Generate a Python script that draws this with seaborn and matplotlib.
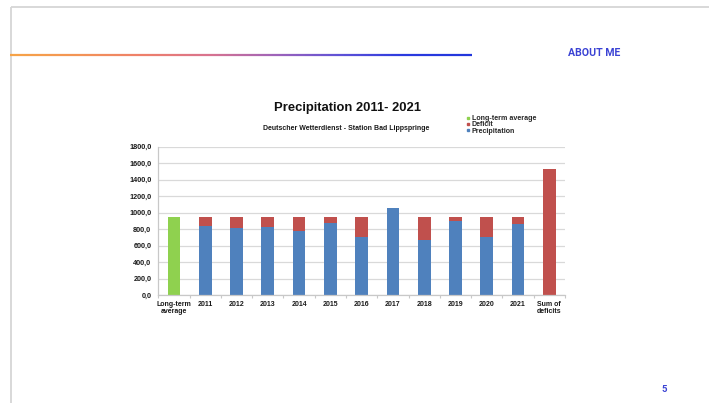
import numpy as np
import pandas as pd
import matplotlib
matplotlib.use("Agg")
import matplotlib.pyplot as plt
import seaborn as sns
from matplotlib.collections import LineCollection
from matplotlib.colors import LinearSegmentedColormap
from matplotlib.lines import Line2D

# Annual precipitation (mm), DWD station Bad Lippspringe
years = ["2011", "2012", "2013", "2014", "2015", "2016",
         "2017", "2018", "2019", "2020", "2021"]
precipitation = [837, 813, 822, 777, 878, 705, 1062, 674, 906, 705, 858]
deficit = [113, 137, 128, 173, 72, 245, 0, 276, 44, 245, 92]
long_term_average = 950
sum_of_deficits = 1525

avg_label = "Long-term\naverage"
sum_label = "Sum of\ndeficits"
categories = [avg_label] + years + [sum_label]
y_ticks = [0, 200, 400, 600, 800, 1000, 1200, 1400, 1600, 1800]

legend_labels = ["Long-term average", "Deficit", "Precipitation"]

GREEN = "#8fd14f"
RED = "#c0504d"
BLUE = "#4f81bd"
ACCENT = "#3b43d4"

sns.set_theme(style="white")
plt.rcParams["font.family"] = ["Liberation Sans", "DejaVu Sans"]

W, H = 709, 403
fig = plt.figure(figsize=(W / 100, H / 100), dpi=100)

# slide frame and header decoration (pixel coordinates, y downwards)
deco = fig.add_axes([0, 0, 1, 1], zorder=-5)
deco.set_xlim(0, W)
deco.set_ylim(H, 0)
deco.axis("off")
deco.plot([11, W], [7, 7], color="#d6d6d6", lw=1.3, solid_capstyle="butt")
deco.plot([11, 11], [7, H], color="#d6d6d6", lw=1.3, solid_capstyle="butt")

grad = LinearSegmentedColormap.from_list(
    "header", ["#f6a347", "#f39455", "#ee7f6a", "#d9738e", "#a064b8", "#5f52d6", "#2a3adf", "#2236dc"])
xs = np.linspace(10, 472, 200)
segs = [[(xs[i], 55), (xs[i + 1], 55)] for i in range(len(xs) - 1)]
lc = LineCollection(segs, colors=grad(np.linspace(0, 1, len(segs))), linewidths=1.6)
deco.add_collection(lc)

fig.text(594.5 / W, 1 - 53.5 / H, "ABOUT ME", ha="center", va="center",
         family=["Roboto", "DejaVu Sans"], weight="bold", fontsize=7.6, color=ACCENT)
fig.text(664 / W, 1 - 389 / H, "5", ha="center", va="center",
         family=["Roboto", "DejaVu Sans"], weight="bold", fontsize=6.8, color=ACCENT)

# chart area
ax = fig.add_axes([158.3 / W, 1 - 295.3 / H, (565 - 158.3) / W, (295.3 - 146.7) / H])

stack_top = pd.DataFrame({
    "category": years + [sum_label],
    "value": [p + d for p, d in zip(precipitation, deficit)] + [sum_of_deficits],
})
precip_df = pd.DataFrame({"category": years, "value": precipitation})
avg_df = pd.DataFrame({"category": [avg_label], "value": [long_term_average]})

bar_kw = dict(x="category", y="value", order=categories, width=0.41,
              saturation=1, errorbar=None, ax=ax, linewidth=0)
sns.barplot(data=stack_top, color=RED, **bar_kw)
sns.barplot(data=precip_df, color=BLUE, **bar_kw)
sns.barplot(data=avg_df, color=GREEN, **bar_kw)

ax.set_ylim(0, 1800)
ax.set_xlim(-0.5, len(categories) - 0.5)
ax.set_yticks(y_ticks)
ax.set_yticklabels([f"{v:.1f}".replace(".", ",") for v in y_ticks])
ax.set_xlabel("")
ax.set_ylabel("")
ax.yaxis.grid(True, color="#d9d9d9", lw=0.9)
ax.set_axisbelow(True)
for side in ["top", "right"]:
    ax.spines[side].set_visible(False)
for side in ["left", "bottom"]:
    ax.spines[side].set_color("#c8c8c8")
    ax.spines[side].set_linewidth(0.9)

ax.set_xticks(np.arange(-0.5, len(categories), 1), minor=True)
ax.tick_params(axis="x", which="major", length=0, pad=4)
ax.tick_params(axis="x", which="minor", length=2.5, width=0.8, color="#c8c8c8", bottom=True)
ax.tick_params(axis="y", length=0, pad=5)
for lab in ax.get_yticklabels():
    lab.set_fontsize(5.2)
    lab.set_fontweight("bold")
    lab.set_color("#1a1a1a")
for lab in ax.get_xticklabels():
    lab.set_fontsize(5.0)
    lab.set_fontweight("bold")
    lab.set_color("#1a1a1a")
    lab.set_linespacing(1.05)

fig.text(347 / W, 1 - 108.3 / H, "Precipitation 2011- 2021", ha="center", va="center",
         fontsize=9.4, weight="bold", color="#111111")
fig.text(346 / W, 1 - 128.3 / H, "Deutscher Wetterdienst - Station Bad Lippspringe",
         ha="center", va="center", fontsize=5.0, weight="bold", color="#1a1a1a")

handles = [Line2D([], [], marker="s", ls="none", color=c, markersize=1.9)
           for c in [GREEN, RED, BLUE]]
fig.legend(handles, legend_labels, loc="upper left",
           bbox_to_anchor=(466 / W, 1 - 115 / H), frameon=False,
           prop={"size": 5.1, "weight": "bold"}, handlelength=0.5,
           handletextpad=0.3, labelspacing=-0.1, borderpad=0, borderaxespad=0)

fig.savefig("out.png", dpi=100)
